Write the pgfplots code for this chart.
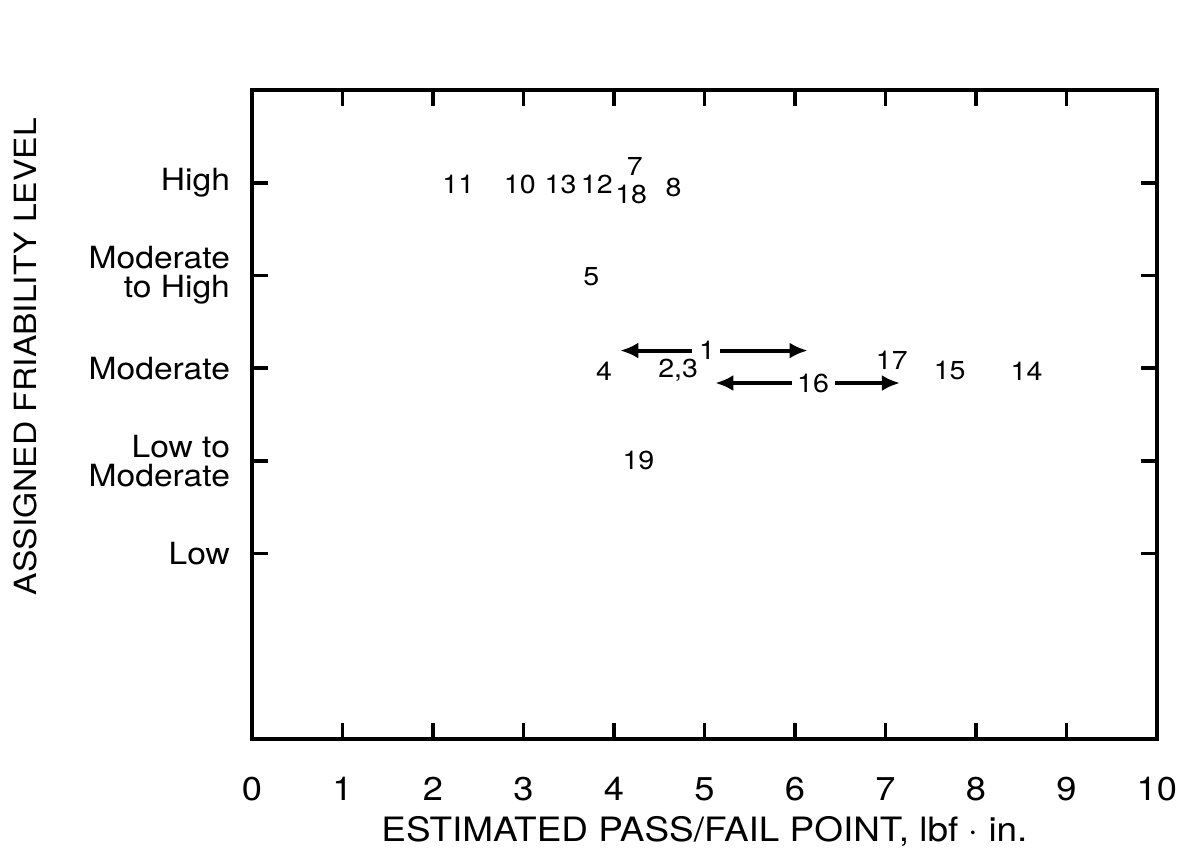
\documentclass[border=0pt]{standalone}
\usepackage{fontspec}
\setmainfont[FakeStretch=1.1]{TeX Gyre Heros}
\usepackage{pgfplots}
\usepackage{pgfplotstable}
\pgfplotsset{compat=1.18}
\usetikzlibrary{arrows.meta}

\pgfplotstableread{
x y label
2.28 4.98 11
2.96 4.98 10
3.41 4.98 13
3.81 4.98 12
4.23 5.17 7
4.19 4.87 18
4.66 4.95 8
3.75 3.99 5
3.89 2.97 4
4.71 2.98 {2,3}
5.03 3.19 1
7.07 3.08 17
7.71 2.97 15
8.56 2.97 14
6.20 2.83 16
4.27 2.00 19
}\labeltable

\begin{document}
\begin{tikzpicture}
\begin{axis}[
  width=453pt, height=325pt, scale only axis,
  xmin=0, xmax=10, ymin=-1, ymax=6,
  xtick={0,1,...,10},
  ytick={1,2,3,4,5},
  yticklabels={Low,{Low to\\Moderate},Moderate,{Moderate\\to High},High},
  tick align=inside,
  major tick length=8pt,
  axis line style={line width=1.8pt, black},
  every tick/.style={line width=1.8pt, black},
  /pgf/number format/assume math mode=true,
  xticklabel style={font=\fontsize{16.5}{17}\selectfont, yshift=-15.5pt},
  yticklabel style={font=\fontsize{15.3}{14.6}\selectfont, align=right, xshift=-7.5pt},
  xlabel={ESTIMATED PASS/FAIL POINT, lbf $\cdot$ in.},
  xlabel style={font=\fontsize{16.8}{17}\selectfont, at={(axis description cs:0.5,-0.142)}, anchor=center},
  clip=false,
]
\addplot[draw=none, mark=none, nodes near coords, point meta=explicit symbolic,
  every node near coord/.append style={anchor=center, inner sep=0pt, font=\fontsize{13}{13}\selectfont}]
  table[x=x, y=y, meta=label] {\labeltable};
\addplot[line width=2pt, -{Latex[length=9pt,width=8pt]}] coordinates {(4.86,3.19) (4.07,3.19)};
\addplot[line width=2pt, -{Latex[length=9pt,width=8pt]}] coordinates {(5.17,3.19) (6.14,3.19)};
\addplot[line width=2pt, -{Latex[length=9pt,width=8pt]}] coordinates {(5.97,2.84) (5.12,2.84)};
\addplot[line width=2pt, -{Latex[length=9pt,width=8pt]}] coordinates {(6.44,2.84) (7.16,2.84)};
\node[rotate=90, anchor=center, font=\fontsize{15.3}{16}\selectfont] at (axis cs:-2.50,3.125) {ASSIGNED FRIABILITY LEVEL};
\path (axis cs:-2.785,-2.15) rectangle (axis cs:10.41,6.97);
\end{axis}
\end{tikzpicture}
\end{document}
